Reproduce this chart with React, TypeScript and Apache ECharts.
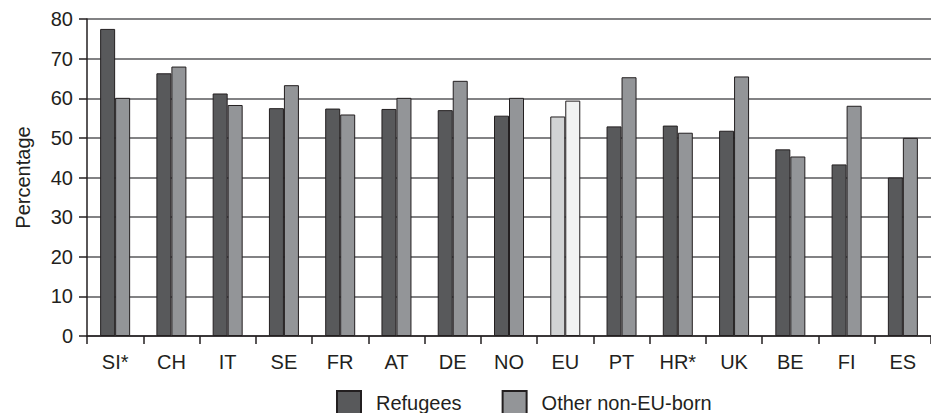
import React, { useEffect, useRef } from "react";
import * as echarts from "echarts";

const categories = ["SI*", "CH", "IT", "SE", "FR", "AT", "DE", "NO", "EU", "PT", "HR*", "UK", "BE", "FI", "ES"];
const refugees = [77.5, 66.3, 61.2, 57.5, 57.4, 57.3, 57.0, 55.6, 55.4, 52.9, 53.1, 51.8, 47.1, 43.3, 40.0];
const otherNonEU = [60.1, 68.0, 58.3, 63.3, 55.9, 60.1, 64.4, 60.1, 59.4, 65.3, 51.3, 65.5, 45.3, 58.1, 50.0];
const yTicks = [0, 10, 20, 30, 40, 50, 60, 70, 80];

const highlightCategory = "EU";
const FONT = "'Liberation Sans', Arial, Helvetica, sans-serif";
const TEXT = "#231f20";
const BORDER = "#231f20";
const C_REF = "#58595b";
const C_OTHER = "#939598";
const C_REF_HL = "#d1d3d4";
const C_OTHER_HL = "#f1f2f2";

export default function App() {
  const ref = useRef<HTMLDivElement>(null);
  useEffect(() => {
    if (!ref.current) return;
    const chart = echarts.init(ref.current, null, { renderer: "svg" });
    const mk = (vals: number[], hl: string) =>
      vals.map((v, i) =>
        categories[i] === highlightCategory ? { value: v, itemStyle: { color: hl } } : v
      );
    chart.setOption({
      animation: false,
      textStyle: { fontFamily: FONT },
      grid: { left: 87, top: 19, bottom: 77, right: -8 },
      legend: {
        top: 390,
        left: 336,
        padding: 0,
        itemWidth: 24,
        itemHeight: 24,
        itemGap: 40,
        icon: "rect",
        textStyle: { fontSize: 20, color: TEXT, fontFamily: FONT, padding: [0, 0, 0, 10] },
        data: ["Refugees", "Other non-EU-born"],
      },
      xAxis: {
        type: "category",
        data: categories,
        boundaryGap: true,
        axisLine: { lineStyle: { color: BORDER, width: 1.5 } },
        axisTick: { show: true, length: 8, lineStyle: { color: BORDER, width: 1.5 } },
        axisLabel: { fontSize: 20, color: TEXT, margin: 16, fontFamily: FONT },
      },
      yAxis: {
        type: "value",
        min: yTicks[0],
        max: yTicks[yTicks.length - 1],
        interval: 10,
        name: "Percentage",
        nameLocation: "middle",
        nameGap: 54,
        nameTextStyle: { fontSize: 20, color: TEXT, fontFamily: FONT },
        axisLine: { show: true, lineStyle: { color: BORDER, width: 1.5 } },
        axisTick: { show: true, length: 8, lineStyle: { color: BORDER, width: 1.5 } },
        axisLabel: { fontSize: 20, color: TEXT, margin: 14, fontFamily: FONT },
        splitLine: { show: true, lineStyle: { color: "#58595b", width: 1.5 } },
      },
      series: [
        {
          name: "Refugees",
          type: "bar",
          barWidth: 15,
          barGap: "0%",
          data: mk(refugees, C_REF_HL),
          itemStyle: { color: C_REF, borderColor: BORDER, borderWidth: 1 },
        },
        {
          name: "Other non-EU-born",
          type: "bar",
          barWidth: 15,
          barGap: "0%",
          data: mk(otherNonEU, C_OTHER_HL),
          itemStyle: { color: C_OTHER, borderColor: BORDER, borderWidth: 1 },
        },
      ],
    });
    return () => chart.dispose();
  }, []);
  return (
    <div
      ref={ref}
      style={{ position: "absolute", left: 0, top: 0, width: 931, height: 413, background: "#fff" }}
    />
  );
}
